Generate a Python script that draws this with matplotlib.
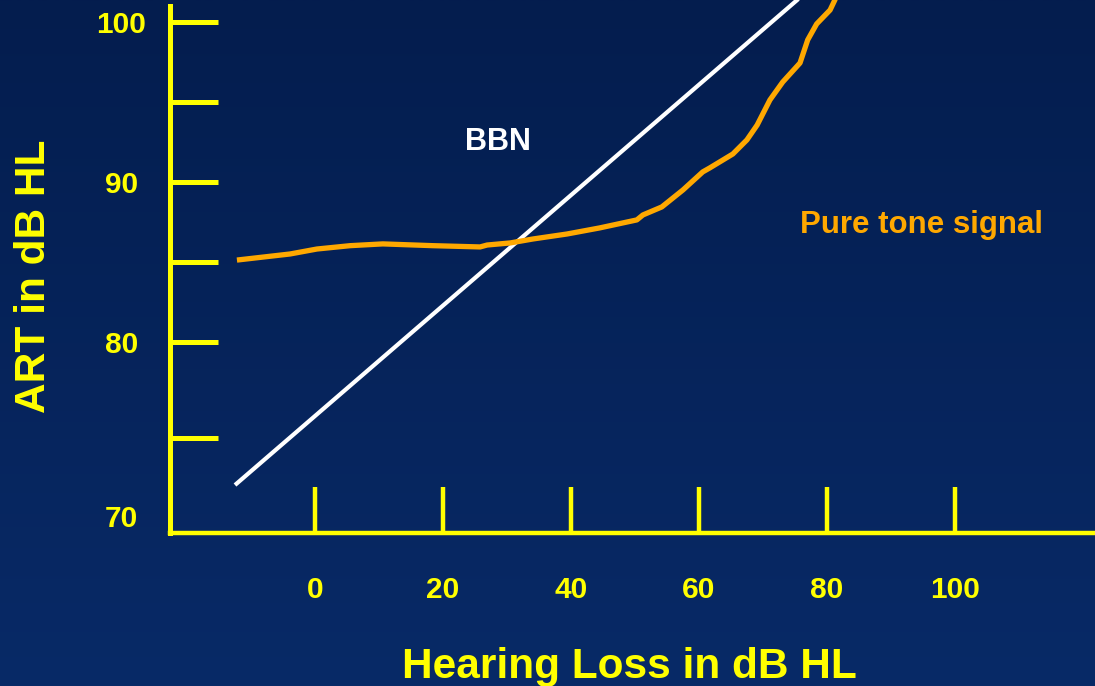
import numpy as np
import matplotlib
matplotlib.use("Agg")
import matplotlib.pyplot as plt
from matplotlib.colors import LinearSegmentedColormap

plt.rcParams['font.family'] = ['Liberation Sans', 'DejaVu Sans']
plt.rcParams['font.weight'] = 'bold'

# Data
#--------------------------------------------------------------------
bbn_x = [-12.5, 76.5]
bbn_y = [71.06, 101.77]

pure_x = [-12.2, -3.9, 0.3, 5.5, 10.6, 18.4, 25.8, 26.9, 30.5, 34.1, 39.4,
          44.5, 50.3, 51.25, 54.2, 57.5, 60.6, 61.7, 65.3, 67.5, 69.1, 71.1,
          73.1, 75.8, 77.0, 78.4, 80.5, 81.25, 82.0]
pure_y = [85.12, 85.5, 85.81, 86.02, 86.13, 86.02, 85.94, 86.06, 86.19, 86.44,
          86.75, 87.13, 87.63, 87.94, 88.44, 89.5, 90.63, 90.88, 91.75, 92.63,
          93.56, 95.13, 96.25, 97.44, 98.88, 99.88, 100.75, 101.38, 101.88]

x_ticks = [0, 20, 40, 60, 80, 100]
x_ticklabels = ['0', '20', '40', '60', '80', '100']
y_major = [100, 90, 80]
y_minor = [95, 85, 74]
y_ticklabels = ['100', '90', '80', '70']

YELLOW = '#ffff00'
ORANGE = '#ffa800'

# Figure with gradient background
#--------------------------------------------------------------------
fig = plt.figure(figsize=(10.95, 6.86), dpi=100)
bg = fig.add_axes([0, 0, 1, 1], zorder=-1)
cmap = LinearSegmentedColormap.from_list('bg', ['#082a67', '#041d4e'])
bg.imshow(np.linspace(0, 1, 256).reshape(-1, 1), aspect='auto', cmap=cmap,
          origin='lower', extent=[0, 1, 0, 1])
bg.axis('off')

ax = fig.add_axes([170 / 1095, 1 - 533 / 686, 1 - 170 / 1095, (533 - 6) / 686])
ax.patch.set_alpha(0)
ax.set_xlim(-22.66, 121.9)
ax.set_ylim(68.06, 101.0)

ax.plot(bbn_x, bbn_y, color='white', lw=3.0, clip_on=False, solid_capstyle='butt')
ax.plot(pure_x, pure_y, color=ORANGE, lw=3.8, clip_on=False,
        solid_joinstyle='round', solid_capstyle='butt')

for s in ['top', 'right']:
    ax.spines[s].set_visible(False)
ax.spines['left'].set_color(YELLOW)
ax.spines['left'].set_linewidth(3.6)
ax.spines['bottom'].set_color(YELLOW)
ax.spines['bottom'].set_linewidth(3.2)

ax.set_xticks(x_ticks, x_ticklabels)
ax.set_yticks(y_major + [68.06], y_ticklabels)
ax.set_yticks(y_minor, minor=True)

ax.tick_params(axis='x', direction='in', length=33, width=3.2, color=YELLOW,
               labelcolor=YELLOW, labelsize=21.5, pad=31)
ax.tick_params(axis='y', which='both', direction='in', length=34.5, width=3.6,
               color=YELLOW, labelcolor=YELLOW, labelsize=21.5, pad=35)
plt.setp(ax.get_yticklabels(), ha='center')
ax.get_yticklabels()[-1].set_va('bottom')
ax.yaxis.get_major_ticks()[-1].tick1line.set_visible(False)

ax.text(465 / 1095, 1 - 150 / 686, 'BBN', transform=fig.transFigure,
        color='white', fontsize=22, fontweight='bold', va='baseline')
ax.text(800 / 1095, 1 - 233 / 686, 'Pure tone signal', transform=fig.transFigure,
        color=ORANGE, fontsize=22.5, fontweight='bold', va='baseline')

fig.text(629 / 1095, 1 - 678 / 686, 'Hearing Loss in dB HL', color=YELLOW,
         fontsize=30.5, fontweight='bold', ha='center', va='baseline')
fig.text(45 / 1095, 1 - 276.5 / 686, 'ART in dB HL', color=YELLOW,
         fontsize=30.5, fontweight='bold', rotation=90, ha='center', va='baseline',
         rotation_mode='anchor')

fig.savefig('out.png', dpi=100)
